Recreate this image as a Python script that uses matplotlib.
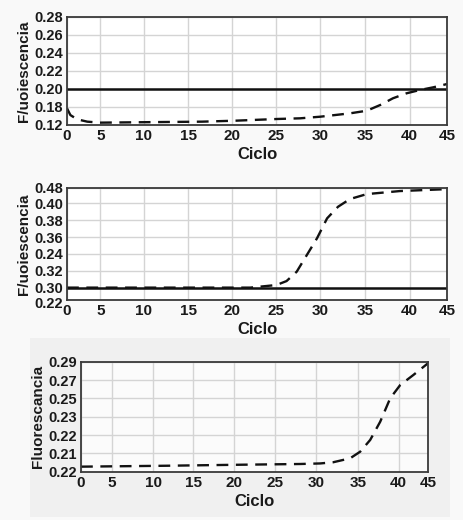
import matplotlib.pyplot as plt
import matplotlib.transforms as mtransforms
from matplotlib.patches import Rectangle

plt.rcParams['font.family'] = ['Liberation Sans', 'DejaVu Sans']
plt.rcParams['font.weight'] = 'bold'

# x tick labels (shared) and where they sit on each panel
x_labels = ['0', '5', '10', '15', '20', '25', '30', '35', '40', '45']
x_pos_top = [0, 3.95, 9.08, 14.33, 19.54, 24.79, 30.0, 35.33, 40.58, 45]
x_pos_bot = [0, 3.97, 9.37, 14.55, 19.87, 25.18, 30.5, 35.9, 41.2, 45]

# Panel 1
cycle1 = [0, 0.4, 1.2, 2.4, 3.9, 8, 16, 20, 25, 27.6, 30, 33.5, 35.5, 37.1, 38.6, 40.2, 41.8, 43.4, 45]
fluor1 = [0.1785, 0.171, 0.1663, 0.1637, 0.1626, 0.163, 0.1637, 0.1648, 0.1667, 0.1674, 0.1692,
          0.1729, 0.1758, 0.1822, 0.1896, 0.1951, 0.1988, 0.2018, 0.2054]
thresh1 = 0.20
y1_pos = [0.16, 0.18, 0.20, 0.22, 0.24, 0.26, 0.28]
y1_labels = ['0.12', '0.18', '0.20', '0.22', '0.24', '0.26', '0.28']

# Panel 2
cycle2 = [0, 10, 21.7, 24.8, 26.0, 27.2, 28.4, 29.6, 30.8, 32.1, 33.5, 35.5, 39.4, 45]
fluor2 = [0.300, 0.300, 0.300, 0.3031, 0.3078, 0.3189, 0.3387, 0.3585, 0.3823, 0.3961,
          0.4052, 0.4111, 0.4147, 0.417]
thresh2 = 0.30
y2_pos = [0.2853, 0.30, 0.32, 0.34, 0.36, 0.38, 0.40, 0.4187]
y2_labels = ['0.22', '0.30', '0.32', '0.24', '0.36', '0.38', '0.40', '0.48']

# Panel 3
cycle3 = [0, 11.1, 19.7, 28.4, 31, 32.7, 34.9, 36.2, 37.5, 38.8, 40.1, 41.4, 43.1, 45]
fluor3 = [0.1755, 0.1765, 0.1775, 0.1784, 0.1790, 0.1803, 0.1846, 0.1918, 0.2046, 0.2245,
          0.2501, 0.2646, 0.2755, 0.2883]
y3_pos = [0.17, 0.19, 0.21, 0.23, 0.25, 0.27, 0.29]
y3_labels = ['0.22', '0.21', '0.22', '0.23', '0.25', '0.27', '0.29']

W, H = 463, 520
fig = plt.figure(figsize=(W / 100, H / 100), dpi=100)
fig.patch.set_facecolor('#f9f9f9')
# grey panel behind the bottom chart
fig.add_artist(Rectangle((30 / W, 1 - 517 / H), 420 / W, 179 / H,
                         transform=fig.transFigure, facecolor='#f0f0f0',
                         edgecolor='none', zorder=-5))


def make_ax(l, r, t, b):
    return fig.add_axes([l / W, 1 - b / H, (r - l) / W, (b - t) / H])


def style(ax, xpos, ypos, ylabels, ylabel, ylim, face='white'):
    ax.set_facecolor(face)
    ax.set_xlim(0, 45)
    ax.set_ylim(*ylim)
    ax.set_xticks(xpos)
    ax.set_xticklabels(x_labels)
    ax.set_yticks(ypos)
    ax.set_yticklabels(ylabels)
    ax.tick_params(length=0, labelsize=11, pad=3, colors='#1a1a1a')
    ax.tick_params(axis='y', labelsize=10.5)
    ax.grid(True, color='#d4d4d4', linewidth=1)
    ax.set_axisbelow(True)
    for s in ax.spines.values():
        s.set_color('#3a3a3a')
        s.set_linewidth(1.3)
    ax.set_xlabel('Ciclo', fontsize=12, fontweight='bold', labelpad=3, color='#1a1a1a')
    ax.set_ylabel(ylabel, fontsize=11, fontweight='bold', labelpad=2, color='#1a1a1a')


dash = dict(color='#111111', linewidth=1.7, linestyle=(0, (5, 3.2)))

ax1 = make_ax(67, 447, 16.7, 125)
style(ax1, x_pos_top, y1_pos, y1_labels, 'F/uoiescencia', (0.16, 0.28))
ax1.axhline(thresh1, color='#111111', linewidth=1.8)
ax1.plot(cycle1, fluor1, **dash)

ax2 = make_ax(67, 447, 187.7, 300)
style(ax2, x_pos_top, y2_pos, y2_labels, 'F/uoiescencia', (0.2853, 0.4187))
ax2.axhline(thresh2, color='#111111', linewidth=1.8)
ax2.plot(cycle2, fluor2, **dash)
# the bottom label sits a little below the axis in the original
low = ax2.get_yticklabels()[0]
low.set_transform(low.get_transform() + mtransforms.ScaledTranslation(0, -3 / 100, fig.dpi_scale_trans))

ax3 = make_ax(81, 428, 361.7, 471.7)
style(ax3, x_pos_bot, y3_pos, y3_labels, 'Fluorescancia', (0.17, 0.29), face='#fbfbfb')
ax3.plot(cycle3, fluor3, **dash)

fig.savefig('out.png', dpi=100, facecolor=fig.get_facecolor())
